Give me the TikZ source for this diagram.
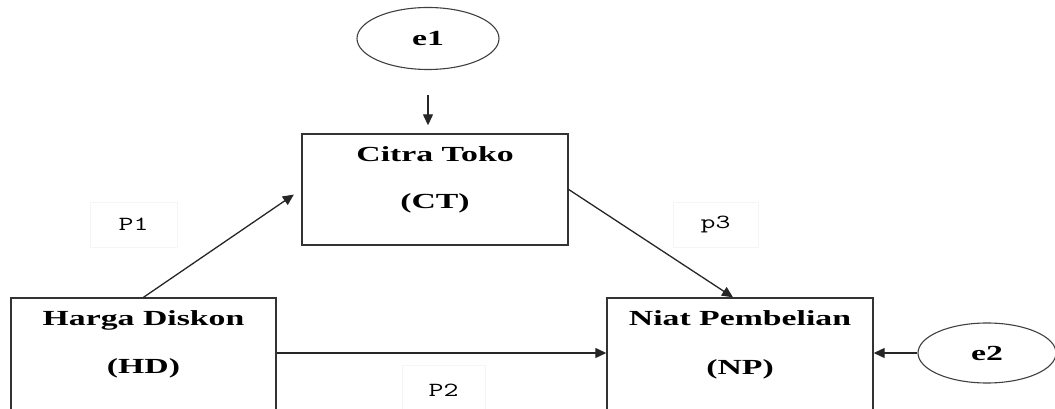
\documentclass[tikz,border=0pt]{standalone}
\usepackage{fontspec}
\setmainfont{Liberation Serif}
\usetikzlibrary{arrows.meta,calc,shapes.geometric}
\newcommand{\wide}[1]{\scalebox{1.57}[1]{#1}}
\newcommand{\widem}[1]{\scalebox{1.45}[1]{#1}}
\tikzset{
  box/.style={draw=black!80, line width=1.4pt, rectangle, inner sep=0pt},
  ell/.style={draw=black!75, line width=1.1pt, ellipse, inner sep=0pt},
  bt/.style={font=\fontsize{21.5}{21.5}\selectfont\bfseries, inner sep=0pt, anchor=base},
  lab/.style={draw=black!4, line width=0.6pt, rectangle, inner sep=0pt,
              font=\ttfamily\fontsize{20}{20}\selectfont},
  arr/.style={draw=black!85, line width=1.3pt, -{Triangle[length=11pt,width=10pt]}},
}
\begin{document}
\begin{tikzpicture}[x=1pt,y=-1pt]
\useasboundingbox (0,0) rectangle (1055,409);
% boxes
\node[box, minimum width=266pt, minimum height=111pt] (ct) at (435,189.5) {};
\node[box, minimum width=265pt, minimum height=130pt] (hd) at (143.5,363) {};
\node[box, minimum width=266pt, minimum height=130pt] (np) at (740,363) {};
% ellipses
\node[ell, minimum width=142pt, minimum height=62pt] (e1) at (428,38.5) {\fontsize{21.5}{21.5}\selectfont\bfseries\wide{e1}};
\node[ell, minimum width=138pt, minimum height=60pt] (e2) at (987,353) {\fontsize{21.5}{21.5}\selectfont\bfseries\wide{e2}};
% box texts
\node[bt] (ct1) at (435,161) {\wide{Citra\ Toko}};
\node[bt] (ct2) at (435,208) {\wide{(CT)}};
\node[bt] (hd1) at (143.5,325) {\wide{Harga\ Diskon}};
\node[bt] (hd2) at (143.5,373) {\wide{(HD)}};
\node[bt] (np1) at (740,325) {\wide{Niat\ Pembelian}};
\node[bt] (np2) at (740,374) {\wide{(NP)}};
% path labels
\node[lab, minimum width=87pt, minimum height=45pt] (p1) at (133.5,224.5) {\widem{P1}};
\node[lab, minimum width=85pt, minimum height=45pt] (p3) at (715.5,224.5) {\widem{p3}};
\node[lab, minimum width=83pt, minimum height=50pt] (p2) at (443.5,390) {\widem{P2}};
% connectors
\draw[arr, shorten <=25pt, shorten >=8pt] (e1.south) -- (ct.north -| e1.south);
\draw[arr, shorten >=9pt] (hd.north) -- (ct.west);
\draw[arr] (ct.east) -- ([xshift=-7pt]np.north);
\draw[arr] (hd.east |- e2.center) -- (np.west |- e2.center);
\draw[arr] (e2.west) -- (np.east |- e2.west);
\end{tikzpicture}
\end{document}
